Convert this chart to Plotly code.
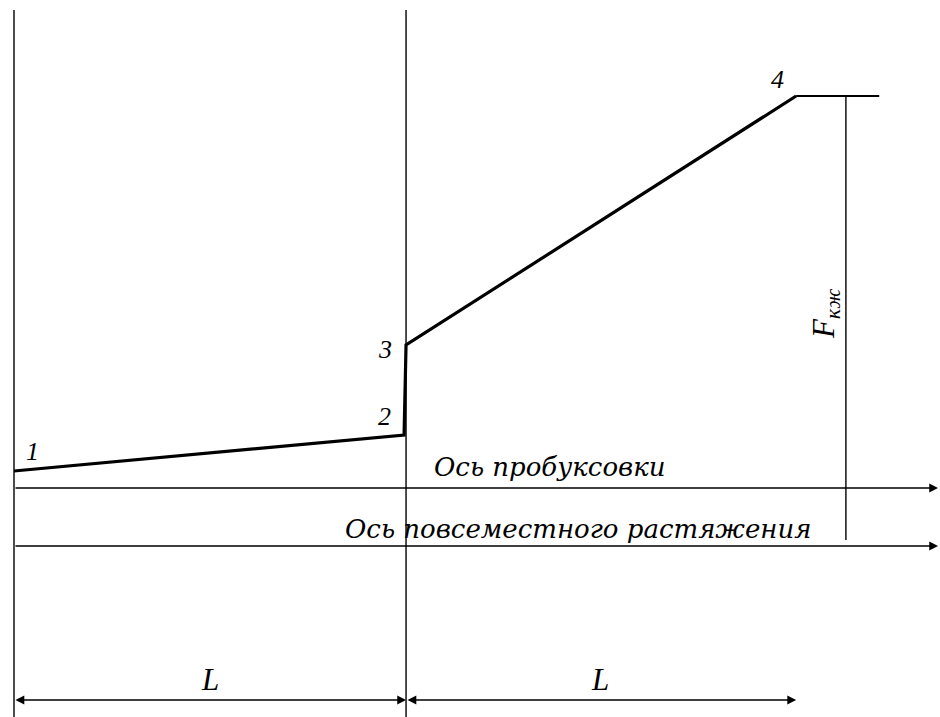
import plotly.graph_objects as go

# Profile points 1..4: x in units of L (0 at left border), y in drawing units above the "uniform stretch" axis
point_labels = ["1", "2", "3", "4"]
profile_x = [0.0, 0.995, 1.0, 1.995]
profile_y = [75, 111, 201, 450]

# reference lines
x_left, x_mid, x_end = 0.0, 1.0, 1.995
y_top = 536
y_bottom = -175
y_slip_axis = 58          # Ось пробуксовки
y_stretch_axis = 0        # Ось повсеместного растяжения
y_dim = -154              # dimension line L
x_shelf_end = 2.207       # end of horizontal shelf after point 4
x_F = 2.122               # F_кж dimension line
x_arrow_end = 2.357

axis_labels = ["Ось пробуксовки", "Ось повсеместного растяжения"]
dim_label = "L"
force_label = "F<sub>кж</sub>"

SERIF = "Liberation Serif"
WIDE = "DejaVu Serif"
INK = "#000000"

fig = go.Figure()

# profile 1-2-3-4 thick line
fig.add_trace(go.Scatter(x=profile_x, y=profile_y,
                         mode="lines", line=dict(color=INK, width=3.2),
                         hoverinfo="skip", showlegend=False))
# horizontal shelf after point 4
fig.add_trace(go.Scatter(x=[profile_x[-1], x_shelf_end], y=[profile_y[-1], profile_y[-1]],
                         mode="lines", line=dict(color=INK, width=1.8),
                         hoverinfo="skip", showlegend=False))

shapes = []
def line(x0, y0, x1, y1, w=1.4):
    shapes.append(dict(type="line", xref="x", yref="y", x0=x0, y0=y0, x1=x1, y1=y1,
                       line=dict(color=INK, width=w), layer="below"))

line(x_left, y_bottom, x_left, y_top)
line(x_mid, y_bottom, x_mid, y_top)
line(x_F, profile_y[-1], x_F, y_stretch_axis + 6)

annotations = []
def arrow(x0, y0, x1, y1, both=False):
    annotations.append(dict(x=x1, y=y1, ax=x0, ay=y0, xref="x", yref="y", axref="x", ayref="y",
                            showarrow=True, arrowhead=2, arrowsize=1.1, arrowwidth=1.6,
                            arrowcolor=INK, arrowside="end+start" if both else "end", text=""))

arrow(x_left, y_slip_axis, x_arrow_end, y_slip_axis)
arrow(x_left, y_stretch_axis, x_arrow_end, y_stretch_axis)
arrow(x_left, y_dim, x_mid, y_dim, both=True)
arrow(x_mid, y_dim, x_end, y_dim, both=True)

def text(x, y, s, size=24, angle=0, family=SERIF):
    annotations.append(dict(x=x, y=y, xref="x", yref="y", text=s, showarrow=False,
                            textangle=angle,
                            font=dict(family=family, size=size, color=INK, style="italic")))

label_pos = [(0.048, 95), (0.944, 130), (0.946, 197), (1.947, 467)]
for (lx, ly), s in zip(label_pos, point_labels):
    text(lx, ly, s, size=26)

text(1.367, 79, axis_labels[0], size=26, family=WIDE)
text(1.4375, 17, axis_labels[1], size=26, family=WIDE)
text(0.5, -133, dim_label, size=31)
text(1.495, -133, dim_label, size=31)
text(2.071, 232, force_label, size=31, angle=-90)

fig.update_layout(
    width=940, height=717,
    margin=dict(l=0, r=0, t=0, b=0),
    paper_bgcolor="white", plot_bgcolor="white",
    shapes=shapes, annotations=annotations,
    xaxis=dict(range=[-0.0357, 2.362], visible=False, fixedrange=True),
    yaxis=dict(range=[-171, 546], visible=False, fixedrange=True),
    showlegend=False,
)

fig.write_html("out.html", config={"displayModeBar": False},
               post_script="document.body.style.margin='0';document.body.style.overflow='hidden';")
